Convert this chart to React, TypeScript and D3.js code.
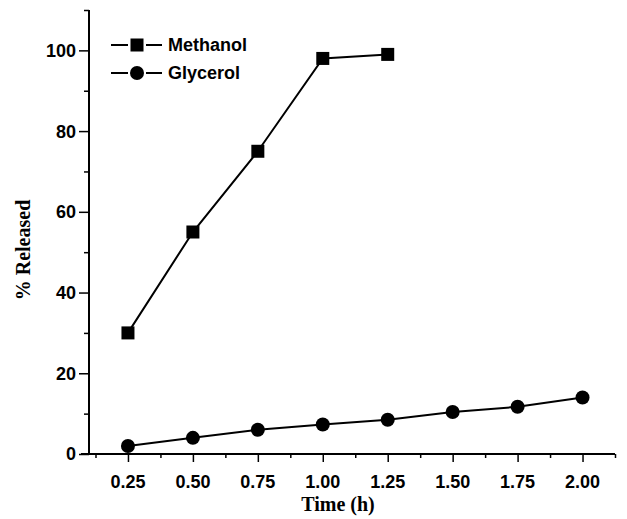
import React, { useEffect, useRef } from 'react';
import * as d3 from 'd3';

const methanolTime = [0.25, 0.5, 0.75, 1.0, 1.25];
const methanolReleased = [30, 55, 75, 98, 99];
const glycerolTime = [0.25, 0.5, 0.75, 1.0, 1.25, 1.5, 1.75, 2.0];
const glycerolReleased = [2, 4, 6, 7.3, 8.5, 10.4, 11.7, 14];
const xTickValues = [0.25, 0.5, 0.75, 1.0, 1.25, 1.5, 1.75, 2.0];
const yTickValues = [0, 20, 40, 60, 80, 100];

const W = 627;
const H = 519;

const App = () => {
  const svgRef = useRef<SVGSVGElement>(null);

  useEffect(() => {
    const svg = d3.select(svgRef.current);
    svg.selectAll('*').remove();

    const left = 89, right = 615, top = 10, bottom = 454;
    const x = d3.scaleLinear().domain([0.1, 2.125]).range([left, right]);
    const y = d3.scaleLinear().domain([0, 110]).range([bottom, top]);

    const sans = 'Liberation Sans, Arial, sans-serif';
    const serif = 'Liberation Serif, Times New Roman, serif';

    // axes
    const xAxis = svg.append('g').attr('transform', `translate(0,${bottom})`);
    xAxis.call(d3.axisBottom(x).tickValues(d3.range(0.125, 2.13, 0.125)).tickSize(4).tickFormat(() => '').tickSizeOuter(0));
    xAxis.call(g => g.selectAll('.tick').filter((d: any) => xTickValues.some(v => Math.abs(v - d) < 1e-6)).select('line').attr('y2', 8));
    xAxis.selectAll('.tick line').attr('stroke-width', 1.5);
    xAxis.select('.domain').attr('stroke-width', 2).attr('d', `M${left - 8},0H${right}`);
    xAxis.selectAll('.xl').data(xTickValues).join('text')
      .attr('x', d => x(d)).attr('y', 34)
      .attr('text-anchor', 'middle').attr('fill', '#000')
      .style('font-family', sans).style('font-weight', 'bold').style('font-size', '18px')
      .text(d => d.toFixed(2));

    const yAxis = svg.append('g').attr('transform', `translate(${left},0)`);
    yAxis.call(d3.axisLeft(y).tickValues(d3.range(0, 111, 10)).tickSize(5).tickFormat(() => '').tickSizeOuter(0));
    yAxis.call(g => g.selectAll('.tick').filter((d: any) => yTickValues.includes(d)).select('line').attr('x2', -10));
    yAxis.selectAll('.tick line').attr('stroke-width', 1.5);
    yAxis.select('.domain').attr('stroke-width', 2).attr('d', `M0,${top}V${bottom}`);
    yAxis.selectAll('.yl').data(yTickValues).join('text')
      .attr('x', -13).attr('y', d => y(d)).attr('dy', '0.36em')
      .attr('text-anchor', 'end').attr('fill', '#000')
      .style('font-family', sans).style('font-weight', 'bold').style('font-size', '18px')
      .text(d => d);

    // axis titles
    svg.append('text')
      .attr('x', (left + right) / 2 - 14).attr('y', 511)
      .attr('text-anchor', 'middle')
      .style('font-family', serif).style('font-weight', 'bold').style('font-size', '20px')
      .text('Time (h)');
    svg.append('text')
      .attr('transform', `translate(30,250) rotate(-90)`)
      .attr('text-anchor', 'middle')
      .style('font-family', serif).style('font-weight', 'bold').style('font-size', '20px')
      .text('% Released');

    const line = d3.line<[number, number]>().x(d => x(d[0])).y(d => y(d[1]));
    const mData = methanolTime.map((t, i) => [t, methanolReleased[i]] as [number, number]);
    const gData = glycerolTime.map((t, i) => [t, glycerolReleased[i]] as [number, number]);

    svg.append('path').datum(mData).attr('d', line).attr('fill', 'none').attr('stroke', '#000').attr('stroke-width', 2);
    svg.append('path').datum(gData).attr('d', line).attr('fill', 'none').attr('stroke', '#000').attr('stroke-width', 2);

    const sq = 13;
    svg.append('g').selectAll('rect').data(mData).join('rect')
      .attr('x', d => x(d[0]) - sq / 2).attr('y', d => y(d[1]) - sq / 2)
      .attr('width', sq).attr('height', sq).attr('fill', '#000');
    svg.append('g').selectAll('circle').data(gData).join('circle')
      .attr('cx', d => x(d[0])).attr('cy', d => y(d[1])).attr('r', 7).attr('fill', '#000');

    // legend
    const legend = svg.append('g').attr('transform', 'translate(111,0)');
    const items = [
      { name: 'Methanol', shape: 'square', cy: 45 },
      { name: 'Glycerol', shape: 'circle', cy: 73 },
    ];
    items.forEach(it => {
      legend.append('line').attr('x1', 0).attr('x2', 17).attr('y1', it.cy).attr('y2', it.cy)
        .attr('stroke', '#000').attr('stroke-width', 2);
      legend.append('line').attr('x1', 35).attr('x2', 51).attr('y1', it.cy).attr('y2', it.cy)
        .attr('stroke', '#000').attr('stroke-width', 2);
      if (it.shape === 'square') {
        legend.append('rect').attr('x', 26 - sq / 2).attr('y', it.cy - sq / 2).attr('width', sq).attr('height', sq).attr('fill', '#000');
      } else {
        legend.append('circle').attr('cx', 26).attr('cy', it.cy).attr('r', 7).attr('fill', '#000');
      }
      legend.append('text').attr('x', 57).attr('y', it.cy).attr('dy', '0.36em')
        .style('font-family', sans).style('font-weight', 'bold').style('font-size', '18px')
        .text(it.name);
    });
  }, []);

  return (
    <svg ref={svgRef} width={W} height={H} style={{ position: 'absolute', left: 0, top: 0, background: '#fff' }} />
  );
};

export default App;
